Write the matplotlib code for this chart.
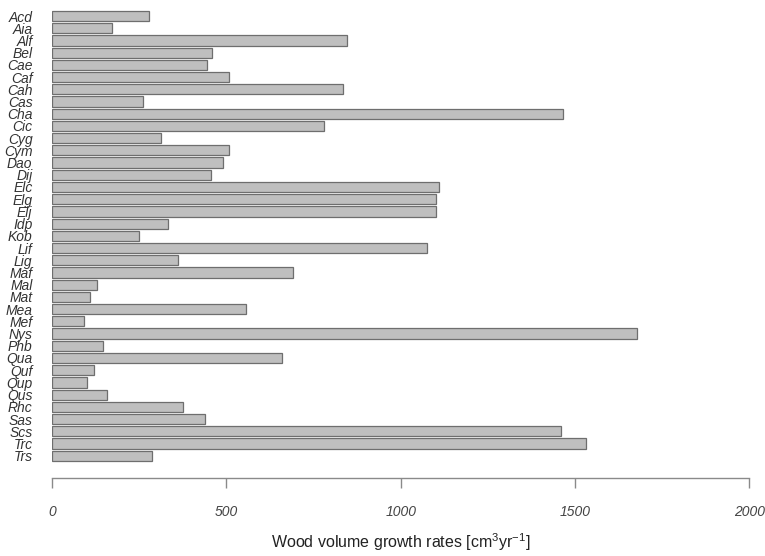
import matplotlib
matplotlib.use("Agg")
import matplotlib.pyplot as plt

W, H = 765, 556

especies = ["Acd", "Aia", "Alf", "Bel", "Cae", "Caf", "Cah", "Cas", "Cha", "Cic",
            "Cyg", "Cym", "Dao", "Dij", "Elc", "Elg", "Elj", "Idp", "Kob", "Lif",
            "Lig", "Maf", "Mal", "Mat", "Mea", "Mef", "Nys", "Phb", "Qua", "Quf",
            "Qup", "Qus", "Rhc", "Sas", "Scs", "Trc", "Trs"]
crescimento = [278, 171, 845, 460, 445, 508, 834, 262, 1465, 780,
               312, 507, 490, 456, 1111, 1101, 1101, 332, 250, 1077,
               360, 692, 128, 108, 555, 91, 1678, 145, 659, 121,
               100, 159, 375, 438, 1459, 1533, 288]
ticks_x = [0, 500, 1000, 1500, 2000]

plt.rcParams["font.family"] = ["Liberation Sans", "DejaVu Sans"]
plt.rcParams["mathtext.fontset"] = "custom"
plt.rcParams["mathtext.rm"] = "Liberation Sans"

fig = plt.figure(figsize=(W / 100, H / 100), dpi=100)
x0, x1 = 52, 749.3
y_eixo = 478.3
ax = fig.add_axes([x0 / W, 1 - y_eixo / H, (x1 - x0) / W, y_eixo / H])

pos = list(range(len(especies)))
ax.barh(pos, crescimento, height=0.833, color="#bfbfbf", edgecolor="#6e6e6e",
        linewidth=0.9)

ax.set_xlim(0, 2000)
# linhas a ~12.21 px; primeira barra em y=16, ultima em 455.7
passo = (455.7 - 16) / 36
ax.set_ylim(36 + (y_eixo - 455.7) / passo, -16 / passo)

for s in ["top", "right", "left"]:
    ax.spines[s].set_visible(False)
ax.spines["bottom"].set_bounds(0, 2000)
ax.spines["bottom"].set_color("#8a8a8a")
ax.spines["bottom"].set_linewidth(1.0)

ax.set_yticks(pos)
ax.set_yticklabels(especies, fontstyle="italic", fontsize=10, color="#333333")
ax.tick_params(axis="y", length=0, pad=14)

ax.set_xticks(ticks_x)
ax.set_xticklabels([str(t) for t in ticks_x], fontstyle="italic", fontsize=10,
                   color="#444444")
ax.tick_params(axis="x", direction="out", length=7.2, width=1.0,
               color="#8a8a8a", pad=12)

ax.set_xlabel(r"Wood volume growth rates [cm$^3$yr$^{-1}$]", fontsize=11.5,
              color="#222222", labelpad=9)

fig.savefig("out.png", dpi=100, facecolor="white")
